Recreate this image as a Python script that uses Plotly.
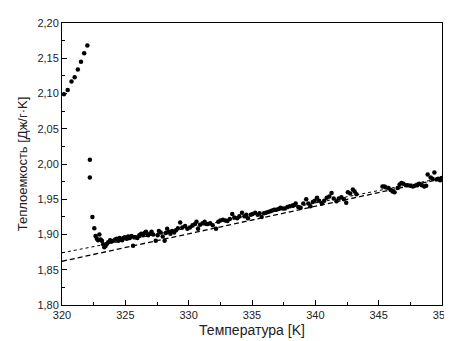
import plotly.graph_objects as go

# Measured data: temperature [K] and heat capacity [J/(g*K)]
temperature = [
    320.15, 320.45, 320.75, 321.0, 321.25, 321.5, 321.75, 322.0,
    322.2, 322.2, 322.4, 322.55, 322.65, 322.75, 322.85, 322.95, 323.05, 323.15,
    323.25, 323.34, 323.45, 323.55, 323.65, 323.8, 323.92, 324.06, 324.2, 324.32,
    324.45, 324.55, 324.63, 324.75, 324.85, 324.96, 325.1, 325.22, 325.35, 325.48,
    325.61, 325.7, 325.81, 325.95, 326.1, 326.25, 326.4, 326.52, 326.63, 326.8,
    326.95, 327.07, 327.2, 327.4, 327.55, 327.65, 327.79, 327.95, 328.1, 328.2,
    328.3, 328.45, 328.56, 328.7, 328.85, 329.0, 329.15, 329.33, 329.5, 329.72,
    329.9, 330.1, 330.3, 330.5, 330.62, 330.74, 330.9, 331.1, 331.26, 331.39,
    331.51, 331.7, 331.9, 332.16, 332.34, 332.5, 332.7, 332.9, 333.06, 333.25,
    333.44, 333.6, 333.83, 334.0, 334.21, 334.4, 334.55, 334.68, 334.9, 335.05,
    335.25, 335.45, 335.6, 335.76, 335.95, 336.1, 336.27, 336.45, 336.6, 336.75,
    336.91, 337.1, 337.25, 337.43, 337.6, 337.8, 337.99, 338.2, 338.35, 338.45,
    338.65, 338.84, 339.05, 339.28, 339.45, 339.61, 339.8, 339.95, 340.13, 340.3,
    340.51, 340.7, 340.9, 341.1, 341.28, 341.45, 341.67, 341.85, 342.06, 342.25,
    342.44, 342.57, 342.75, 342.96, 343.1, 343.25,
    345.3, 345.45, 345.55, 345.78, 345.95, 346.1, 346.25, 346.5, 346.65, 346.8,
    346.95, 347.15, 347.3, 347.5, 347.7, 347.85, 348.05, 348.2, 348.4, 348.6,
    348.75, 348.87, 349.1, 349.25, 349.4, 349.56, 349.7, 349.85, 349.97,
]
heat_capacity = [
    2.099, 2.105, 2.117, 2.123, 2.134, 2.145, 2.157, 2.168,
    2.006, 1.981, 1.925, 1.909, 1.898, 1.894, 1.892, 1.900, 1.893, 1.891,
    1.886, 1.882, 1.884, 1.887, 1.889, 1.892, 1.890, 1.891, 1.893, 1.894,
    1.891, 1.895, 1.893, 1.892, 1.895, 1.896, 1.894, 1.897, 1.895, 1.898,
    1.884, 1.896, 1.896, 1.895, 1.899, 1.901, 1.899, 1.902, 1.904, 1.899,
    1.901, 1.904, 1.900, 1.891, 1.899, 1.905, 1.903, 1.897, 1.891, 1.902,
    1.908, 1.904, 1.901, 1.905, 1.903, 1.906, 1.909, 1.917, 1.910, 1.912,
    1.908, 1.910, 1.913, 1.915, 1.918, 1.908, 1.914, 1.916, 1.918, 1.915,
    1.915, 1.916, 1.913, 1.908, 1.918, 1.920, 1.921, 1.920, 1.919, 1.922,
    1.929, 1.924, 1.923, 1.926, 1.931, 1.926, 1.928, 1.923, 1.928, 1.929,
    1.931, 1.928, 1.930, 1.925, 1.930, 1.931, 1.932, 1.933, 1.934, 1.935,
    1.935, 1.936, 1.938, 1.937, 1.937, 1.939, 1.940, 1.941, 1.942, 1.944,
    1.939, 1.938, 1.944, 1.950, 1.944, 1.940, 1.946, 1.948, 1.952, 1.948,
    1.944, 1.948, 1.952, 1.954, 1.959, 1.951, 1.947, 1.951, 1.953, 1.950,
    1.945, 1.960, 1.958, 1.964, 1.961, 1.957,
    1.968, 1.968, 1.967, 1.966, 1.963, 1.961, 1.960, 1.966, 1.971, 1.973,
    1.972, 1.970, 1.970, 1.969, 1.968, 1.969, 1.970, 1.972, 1.970, 1.968,
    1.969, 1.985, 1.981, 1.979, 1.988, 1.978, 1.979, 1.977, 1.980,
]

# Linear fit lines (end points)
fit_T = [320, 350]
fit_dotted = [1.874, 1.980]
fit_dashed = [1.862, 1.979]

x_ticks = [320, 325, 330, 335, 340, 345, 350]
y_ticks = [1.80, 1.85, 1.90, 1.95, 2.00, 2.05, 2.10, 2.15, 2.20]

FONT = "Liberation Sans, Arial, sans-serif"

fig = go.Figure()
fig.add_trace(go.Scatter(
    x=fit_T, y=fit_dotted, mode="lines",
    line=dict(color="black", width=1, dash="dot"), showlegend=False, hoverinfo="skip"))
fig.add_trace(go.Scatter(
    x=fit_T, y=fit_dashed, mode="lines",
    line=dict(color="black", width=1.3, dash="5px,3px"), showlegend=False, hoverinfo="skip"))
fig.add_trace(go.Scatter(
    x=temperature, y=heat_capacity, mode="markers",
    marker=dict(color="black", size=4.5, line=dict(width=0)), showlegend=False))

axis_common = dict(
    showgrid=False, zeroline=False, showline=True, linecolor="black", linewidth=1,
    mirror=True, ticks="inside", ticklen=5, tickwidth=1, tickcolor="black",
    tickfont=dict(family=FONT, size=11, color="#222"),
)

fig.update_layout(
    width=452, height=341,
    margin=dict(l=54, r=9, t=11, b=44),
    paper_bgcolor="white", plot_bgcolor="white",
    separators=", ",
    xaxis=dict(
        range=[320, 350], tickvals=x_ticks, tickformat="d",
        minor=dict(ticks="inside", ticklen=3, dtick=2.5, tickcolor="black", tickwidth=1),
        title=dict(text="Температура [K]", font=dict(family=FONT, size=14, color="#222"), standoff=4),
        **axis_common,
    ),
    yaxis=dict(
        range=[1.80, 2.20], tickvals=y_ticks, tickformat=".2f",
        minor=dict(ticks="inside", ticklen=3, dtick=0.025, tickcolor="black", tickwidth=1),
        title=dict(text="Теплоемкость [Дж/г·K]", font=dict(family=FONT, size=13, color="#222"), standoff=6),
        **axis_common,
    ),
)

fig.write_html("out.html")
